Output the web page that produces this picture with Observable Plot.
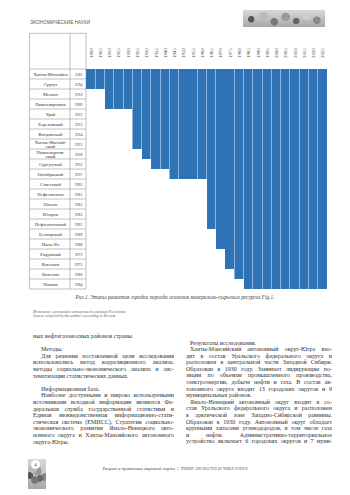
<!DOCTYPE html>
<html><head><meta charset="utf-8">
<script src="https://cdn.jsdelivr.net/npm/d3@7"></script>
<script src="https://cdn.jsdelivr.net/npm/@observablehq/plot@0.6"></script>
<style>
html,body{margin:0;padding:0;background:#fff;}
#page{position:relative;width:350px;height:495px;overflow:hidden;font-family:"Liberation Serif",serif;color:#333;}
.abs{position:absolute;}
.col{position:absolute;font-size:6px;line-height:6.6px;color:#333;}
.col div{height:6.6px;white-space:nowrap;}
.j{text-align:justify;text-align-last:justify;white-space:normal !important;overflow:hidden;}
.bub{background:
 radial-gradient(circle at 10% 55%, #555 0 3px, transparent 3.5px),
 radial-gradient(circle at 25% 35%, #bbb 0 4px, transparent 4.5px),
 radial-gradient(circle at 38% 70%, #777 0 3.5px, transparent 4px),
 radial-gradient(circle at 52% 40%, #999 0 4px, transparent 4.5px),
 radial-gradient(circle at 65% 65%, #666 0 3px, transparent 3.5px),
 radial-gradient(circle at 78% 35%, #ccc 0 4px, transparent 4.5px),
 radial-gradient(circle at 90% 60%, #888 0 3.5px, transparent 4px),
 linear-gradient(#d8d8d8,#a8a8a8);}
</style></head><body><div id="page">
<div class="abs" style="left:30px;top:20px;font-family:'Liberation Sans',sans-serif;font-size:4.6px;color:#555;letter-spacing:0.1px;">ЭКОНОМИЧЕСКИЕ НАУКИ</div>
<div class="abs bub" style="left:243px;top:10px;width:82px;height:17px;"></div>
<div id="chart" class="abs" style="left:0;top:30px;"></div>
<div class="abs" style="left:0;width:350px;top:294px;text-align:center;font-style:italic;font-size:5.3px;color:#444;">Рис.1. Этапы развития городов периода освоения минерально-сырьевых ресурсов Fig.1.</div>
<div class="abs" style="left:33px;top:310px;font-style:italic;font-size:3.9px;line-height:4px;color:#666;">Источник: составлено авторами по данным Росстата<br>Source compiled by the authors according to Rosstat</div>
<div id="left" class="col" style="left:33px;top:333px;width:141px;"></div>
<div id="right" class="col" style="left:186px;top:339.5px;width:146px;"></div>
<div class="abs" style="left:0;width:350px;top:466px;text-align:center;font-size:5px;color:#444;">
<span style="font-style:italic;">Теория и практика мировой науки</span>&nbsp;&nbsp;|&nbsp;&nbsp;<span style="font-variant:small-caps;font-size:4.6px;">Theory and practice of world science</span></div>
<div class="abs bub" style="left:28px;top:459px;width:18px;height:30px;"></div>
<div class="abs" style="left:31px;top:460px;width:9px;height:9px;border-radius:50%;background:#fff;font-size:5px;line-height:9px;text-align:center;color:#333;">4</div>
</div>
<script>
// ---- data ----
const cities = ["Ханты-Мансийск","Сургут","Мегион","Нижневартовск","Урай","Березовский","Кондинский","Ханты-Мансийский","Нижневартовский","Сургутский","Октябрьский","Советский","Нефтеюганск","Нягань","Югорск","Нефтеюганский","Белоярский","Пыть-Ях","Радужный","Когалым","Лангепас","Покачи"];
const cityLabels = ["Ханты-Мансийск","Сургут","Мегион","Нижневартовск","Урай","Березовский","Кондинский","Ханты-Мансий-\nский","Нижневартов-\nский","Сургутский","Октябрьский","Советский","Нефтеюганск","Нягань","Югорск","Нефтеюганский","Белоярский","Пыть-Ях","Радужный","Когалым","Лангепас","Покачи"];
const founded = [1582,1594,1910,1909,1922,1923,1924,1923,1928,1932,1937,1963,1961,1965,1962,1961,1969,1968,1973,1975,1980,1984];
const barStart = [1900,1900,1910,1910,1925,1925,1925,1925,1930,1935,1945,1965,1965,1965,1965,1965,1970,1970,1975,1975,1980,1985];
const years = [1900,1905,1910,1915,1920,1925,1930,1935,1940,1945,1950,1955,1960,1965,1970,1975,1980,1985,1990,1995,2000,2005,2010,2015,2020,2025];

const leftText = [
 ["ных нефтегазоносных районов страны.", 0],
 ["", 0],
 ["Методы.", 1],
 ["Для решения поставленной цели исследования", 3],
 ["использовались метод корреляционного анализа,", 2],
 ["методы социально-экономического анализа и сис-", 2],
 ["тематизации статистических данных.", 0],
 ["", 0],
 ["Информационная база.", 1],
 ["Наиболее доступными и широко используемыми", 3],
 ["источниками исходной информации являются Фе-", 2],
 ["деральная служба государственной статистики и", 2],
 ["Единая межведомственная информационно-стати-", 2],
 ["стическая система (ЕМИСС), Стратегии социально-", 2],
 ["экономического развития Ямало-Ненецкого авто-", 2],
 ["номного округа и Ханты-Мансийского автономного", 2],
 ["округа-Югры.", 0]
];
const rightText = [
 ["Результаты исследования.", 1],
 ["Ханты-Мансийский автономный округ-Югра вхо-", 3],
 ["дит в состав Уральского федерального округа и", 2],
 ["расположен в центральной части Западной Сибири.", 2],
 ["Образован в 1930 году. Занимает лидирующие по-", 2],
 ["зиции по объемам промышленного производства,", 2],
 ["электроэнергии, добыче нефти и газа. В состав ав-", 2],
 ["тономного округа входит 13 городских округов и 9", 2],
 ["муниципальных районов.", 0],
 ["Ямало-Ненецкий автономный округ входит в со-", 3],
 ["став Уральского федерального округа и расположен", 2],
 ["в арктической зоне Западно-Сибирской равнины.", 2],
 ["Образован в 1930 году. Автономный округ обладает", 2],
 ["крупными запасами углеводородов, в том числе газа", 2],
 ["и  нефти.  Административно-территориальное", 2],
 ["устройство включает 6 городских округов и 7 муни-", 2]
];
function fill(id, lines, indent){
  const el = document.getElementById(id);
  for (const [t, k] of lines){
    const d = document.createElement("div");
    d.textContent = t || "\u00a0";
    if (k === 2 || k === 3) d.className = "j";
    if (k === 1 || k === 3) d.style.paddingLeft = indent + "px";
    el.appendChild(d);
  }
}
fill("left", leftText, 8);
fill("right", rightText, 4);

// ---- chart ----
const half = 2.5;
const lastEdge = years[years.length-1] + half;
const rows = cities.map((c,i)=>({city:c, label:cityLabels[i], founded:founded[i], start:barStart[i]}));
// one cell per city and five-year period from the bar start
const cells = [];
for (const r of rows) for (const y of years) if (y >= r.start) cells.push({city: r.city, year: y});

const chart = Plot.plot({
  width: 350, height: 265,
  marginTop: 37, marginLeft: 86, marginRight: 23, marginBottom: 4,
  x: {domain: [years[0]-half, lastEdge], axis: null},
  y: {domain: cities, axis: null, padding: 0},
  style: {fontFamily: "Liberation Serif", background: "transparent", overflow: "visible", color: "#333"},
  marks: [
    Plot.barX(rows, {y: "city", x1: d => d.start - half, x2: () => lastEdge, fill: "#8cb4de", shapeRendering: "crispEdges"}),
    Plot.barX(cells, {y: "city", x1: d => d.year - half, x2: d => d.year + half, fill: "#2e74b5", insetLeft: 0.45, insetRight: 0.45, shapeRendering: "crispEdges"}),
    Plot.axisX(years, {anchor: "top", tickSize: 0, tickRotate: -90, tickPadding: 9.5, tickFormat: d => String(d), fontSize: 4.8, fill: "#444", label: null}),
    Plot.text(rows, {y: "city", text: "label", frameAnchor: "left", dx: -36, textAnchor: "middle", fontSize: 4.6, lineHeight: 1.0, fill: "#333"}),
    Plot.text(rows, {y: "city", text: d => String(d.founded), frameAnchor: "left", dx: -8, textAnchor: "middle", fontSize: 3.8, fill: "#333"})
  ]
});
document.getElementById("chart").appendChild(chart);

// table borders from the plot's y scale
const ys = chart.scale("y");
const bw = ys.bandwidth;
const svg = d3.select(chart);
const g = svg.insert("g", ":first-child").attr("stroke", "#999").attr("stroke-width", 0.6).attr("fill", "none");
const xL = 29.5, xM = 70, xR = 86, yTop = 3.3;
const yBot = ys.apply(cities[cities.length-1]) + bw;
g.append("line").attr("x1", xL).attr("x2", xR).attr("y1", yTop).attr("y2", yTop);
for (const c of cities) {
  const y0 = ys.apply(c);
  g.append("line").attr("x1", xL).attr("x2", xR).attr("y1", y0).attr("y2", y0);
}
g.append("line").attr("x1", xL).attr("x2", xR).attr("y1", yBot).attr("y2", yBot);
for (const x of [xL, xM, xR]) g.append("line").attr("x1", x).attr("x2", x).attr("y1", yTop).attr("y2", yBot);
</script>
</body></html>
